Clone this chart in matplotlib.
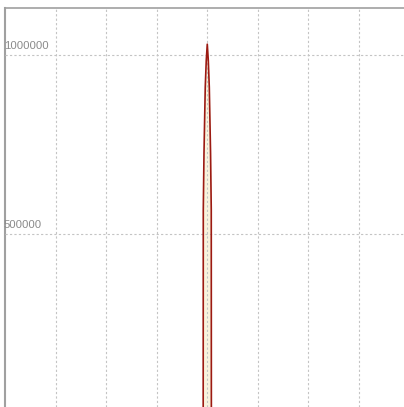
import numpy as np
import matplotlib.pyplot as plt
from matplotlib.transforms import blended_transform_factory

# peak: x in grid units, values as read
x_vals = [3.90, 3.919, 3.921, 3.935, 3.96, 3.98, 4.0, 4.02, 4.04, 4.065, 4.079, 4.081, 4.10]
y_vals = [0, 0, 567000, 726000, 910000, 985000, 1030000, 985000, 910000, 726000, 567000, 0, 0]

y_ticks = [500000, 1000000]
y_tick_labels = ['500000', '1000000']

fig = plt.figure(figsize=(4.04, 4.07), dpi=100)
ax = fig.add_axes([5/404, 0, 399/404, 399/407])

ax.fill_between(x_vals, y_vals, 0, color='#f7efcf', alpha=0.7, lw=0, zorder=1)
ax.plot(x_vals, y_vals, color='#9c1a12', lw=1.2, zorder=3)

ax.set_xlim(-0.01, 7.9)
ax.set_ylim(16760, 1131000)

ax.set_xticks(range(1, 8))
ax.set_yticks(y_ticks)
ax.tick_params(length=0, labelbottom=False, labelleft=False)
ax.grid(True, color='#c4c4c4', linestyle=(0, (2, 2)), lw=0.8, zorder=2)
ax.set_axisbelow(False)

trans = blended_transform_factory(ax.transAxes, ax.transData)
for v, lab in zip(y_ticks, y_tick_labels):
    ax.text(-0.003, v + 12000, lab, transform=trans, ha='left', va='bottom',
            fontsize=8.2, color='#8a8a8a', family='Liberation Sans')

for s in ['right', 'bottom']:
    ax.spines[s].set_visible(False)
ax.spines['left'].set_color('#a0a0a0')
ax.spines['left'].set_linewidth(1.5)
ax.spines['top'].set_color('#a0a0a0')
ax.spines['top'].set_linewidth(1.2)

fig.savefig('out.png', dpi=100)
